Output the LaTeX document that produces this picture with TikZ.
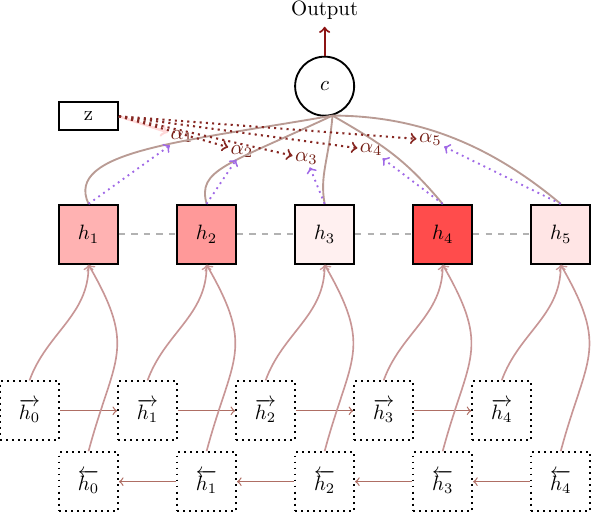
\documentclass[tikz,border=0pt]{standalone}
\usepackage{bm}
\usepackage{tikz}
\definecolor{hlink}{RGB}{185,155,148}
\definecolor{rlink}{RGB}{200,150,150}
\definecolor{rarrow}{RGB}{175,110,100}
\definecolor{zred}{RGB}{135,40,35}
\definecolor{alphatxt}{RGB}{115,30,20}
\definecolor{attn}{RGB}{160,105,230}
\definecolor{outred}{RGB}{140,20,20}

\begin{document}
\begin{tikzpicture}[
        hbox/.style={draw,line width=0.9pt,minimum size=1cm,inner sep=0pt},
        rnn/.style={draw,dotted,line width=0.9pt,minimum size=1cm,inner sep=0pt},
        alab/.style={text=alphatxt,inner sep=1pt},
        toc/.style={hlink,line width=0.9pt},
        feed/.style={->,rlink,line width=0.8pt},
        chain/.style={->,rarrow,line width=0.6pt},
        zarr/.style={->,zred,dotted,line width=1pt},
        aarr/.style={->,attn,dotted,line width=0.9pt}]
        \useasboundingbox(0,0)rectangle(10.03,-8.68);
        % annotations h_i
        \node[hbox,fill=red!30](h1)at(1.5,-3.97){$h_1$};
        \node[hbox,fill=red!40](h2)at(3.5,-3.97){$h_2$};
        \node[hbox,fill=red!6](h3)at(5.5,-3.97){$h_3$};
        \node[hbox,fill=red!70](h4)at(7.5,-3.97){$h_4$};
        \node[hbox,fill=red!10](h5)at(9.5,-3.97){$h_5$};
        % forward rnn
        \node[rnn](f0)at(0.5,-6.96){$\overrightarrow{h_0}$};
        \node[rnn](f1)at(2.5,-6.96){$\overrightarrow{h_1}$};
        \node[rnn](f2)at(4.5,-6.96){$\overrightarrow{h_2}$};
        \node[rnn](f3)at(6.5,-6.96){$\overrightarrow{h_3}$};
        \node[rnn](f4)at(8.5,-6.96){$\overrightarrow{h_4}$};
        % backward rnn
        \node[rnn](b0)at(1.5,-8.16){$\overleftarrow{h_0}$};
        \node[rnn](b1)at(3.5,-8.16){$\overleftarrow{h_1}$};
        \node[rnn](b2)at(5.5,-8.16){$\overleftarrow{h_2}$};
        \node[rnn](b3)at(7.5,-8.16){$\overleftarrow{h_3}$};
        \node[rnn](b4)at(9.5,-8.16){$\overleftarrow{h_4}$};
        % context and query
        \node[draw,circle,line width=0.9pt,minimum size=1cm](c)at(5.5,-1.46){$c$};
        \node(out)at(5.5,-0.17){Output};
        \node[draw,line width=0.9pt,minimum width=1cm,minimum height=0.47cm](z)at(1.5,-1.97){z};
        \node[alab](a1)at(3.08,-2.32){$\alpha_1$};
        \node[alab](a2)at(4.10,-2.56){$\alpha_2$};
        \node[alab](a3)at(5.19,-2.69){$\alpha_3$};
        \node[alab](a4)at(6.29,-2.54){$\alpha_4$};
        \node[alab](a5)at(7.29,-2.37){$\alpha_5$};

        \draw[dashed,gray!60,line width=0.9pt](h1)--(h2)(h2)--(h3)(h3)--(h4)(h4)--(h5);
        \draw[->,outred,line width=1pt](c)--(out);
        \draw[chain](f0)--(f1);\draw[chain](f1)--(f2);\draw[chain](f2)--(f3);\draw[chain](f3)--(f4);
        \draw[chain](b4)--(b3);\draw[chain](b3)--(b2);\draw[chain](b2)--(b1);\draw[chain](b1)--(b0);
        \draw[feed](f0.north)to[out=70,in=-90](h1.south);
        \draw[feed](f1.north)to[out=70,in=-90](h2.south);
        \draw[feed](f2.north)to[out=70,in=-90](h3.south);
        \draw[feed](f3.north)to[out=70,in=-90](h4.south);
        \draw[feed](f4.north)to[out=70,in=-90](h5.south);
        \draw[feed](b0.north)to[out=75,in=-60,looseness=1.35](h1.south);
        \draw[feed](b1.north)to[out=75,in=-60,looseness=1.35](h2.south);
        \draw[feed](b2.north)to[out=75,in=-60,looseness=1.35](h3.south);
        \draw[feed](b3.north)to[out=75,in=-60,looseness=1.35](h4.south);
        \draw[feed](b4.north)to[out=75,in=-60,looseness=1.35](h5.south);
        % weighted sum into c
        \draw[toc](h1.north).. controls +(115:1) and +(190:2.5) ..(c.-75);
        \draw[toc](h2.north).. controls +(105:0.6) and +(205:2) ..(c.-75);
        \draw[toc](h3.north).. controls +(100:0.5) and +(-95:0.8) ..(c.-75);
        \draw[toc](h4.north).. controls +(130:1) and +(-30:1) ..(c.-75);
        \draw[toc](h5.north).. controls +(140:1.5) and +(0:1.5) ..(c.-75);
        % scores
        \draw[->,red!15,line width=1.2pt](z.east)--(a1);
        \draw[zarr](z.east)--(a2);\draw[zarr](z.east)--(a3);\draw[zarr](z.east)--(a4);\draw[zarr](z.east)--(a5);
        \draw[aarr](h1.north)--(a1);\draw[aarr](h2.north)--(a2);\draw[aarr](h3.north)--(a3);
        \draw[aarr](h4.north)--(a4);\draw[aarr](h5.north)--(a5);
    \end{tikzpicture}
\end{document}
